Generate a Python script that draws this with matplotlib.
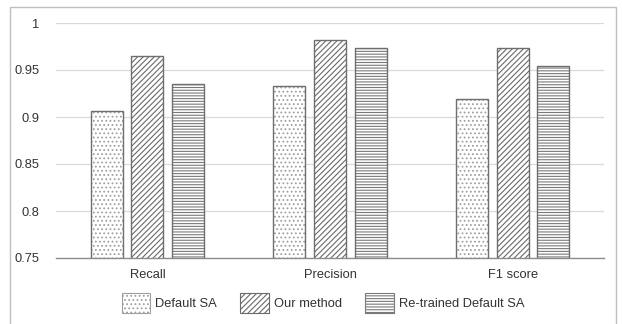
import numpy as np
import matplotlib.pyplot as plt
from matplotlib.patches import Rectangle, Patch

plt.rcParams['font.family'] = ['Liberation Sans', 'DejaVu Sans']
plt.rcParams['hatch.linewidth'] = 0.8

categories = ['Recall', 'Precision', 'F1 score']
series_names = ['Default SA', 'Our method', 'Re-trained Default SA']
default_sa = [0.906, 0.933, 0.919]
our_method = [0.965, 0.982, 0.973]
retrained_sa = [0.935, 0.973, 0.954]

fig = plt.figure(figsize=(6.22, 3.24), dpi=100)
ax = fig.add_axes([56 / 622, 1 - 258 / 324, 548 / 622, 235 / 324])

x = np.arange(len(categories))
w = 0.175
off = 0.222
styles = [('....', '#a0a0a0'), ('//////', '#6a6a6a'), ('------', '#7a7a7a')]
data = [default_sa, our_method, retrained_sa]
for i, (vals, (h, c)) in enumerate(zip(data, styles)):
    pos = x + (i - 1) * off
    # hatch fill first, outline on top
    ax.bar(pos, vals, w, color='white', edgecolor=c, hatch=h,
           linewidth=0, zorder=2)
    ax.bar(pos, vals, w, color='none', edgecolor='#6e6e6e', linewidth=1.0,
           zorder=3)

ax.set_xlim(-0.5, 2.5)
ax.set_ylim(0.75, 1.0)
ax.set_yticks([0.75, 0.8, 0.85, 0.9, 0.95, 1.0])
ax.set_yticklabels(['0.75', '0.8', '0.85', '0.9', '0.95', '1'])
ax.set_xticks(x)
ax.set_xticklabels(categories)
ax.tick_params(axis='both', length=0, labelsize=9.3, colors='#333333')
ax.tick_params(axis='y', pad=12)
ax.tick_params(axis='x', pad=8)
ax.grid(axis='y', color='#d9d9d9', linewidth=0.9, zorder=0)
ax.set_axisbelow(True)
for s in ['top', 'right', 'left']:
    ax.spines[s].set_visible(False)
ax.spines['bottom'].set_color('#8c8c8c')
ax.spines['bottom'].set_linewidth(1.0)

handles = [Patch(facecolor='white', edgecolor=styles[i][1], hatch=styles[i][0],
                 linewidth=0.8) for i in range(3)]
leg = fig.legend(handles, series_names, loc='center',
                 bbox_to_anchor=(0.5 + 12 / 622, 1 - 303 / 324),
                 ncol=3, frameon=False, fontsize=9.3, handlelength=2.2, handleheight=2.0,
                 columnspacing=1.8, handletextpad=0.4)
for t in leg.get_texts():
    t.set_color('#333333')

fig.patches.append(Rectangle((10 / 622, -0.1), 606 / 622, 1.1 - 7 / 324,
                             transform=fig.transFigure, fill=False,
                             edgecolor='#bfbfbf', linewidth=1.0))

fig.savefig('out.png', dpi=100)
